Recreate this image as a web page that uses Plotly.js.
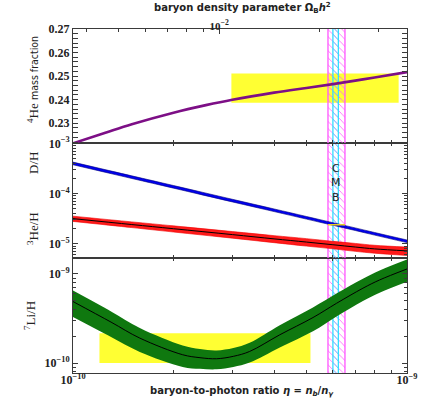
<!DOCTYPE html>
<html><head><meta charset="utf-8">
<script src="https://cdn.plot.ly/plotly-3.0.1.min.js"></script>
<style>html,body{margin:0;padding:0;background:#fff}#chart{width:422px;height:401px}</style>
</head><body><div id="chart"></div>
<script>
// eta values are in units of 1e-10
const ETA_UNIT = 1e-10;
const OMEGA_FACTOR = 273.9; // eta_10 = 273.9 * Omega_B h^2

// 4He mass fraction
const etaHe = [1, 1.25, 1.5, 2, 2.5, 3, 4, 5, 6, 7, 8, 10];
const yHe4  = [0.2215, 0.2260, 0.2296, 0.2345, 0.2377, 0.2400, 0.2430, 0.2450, 0.2466, 0.2481, 0.2494, 0.2517];

// D/H and 3He/H
const etaD  = [1, 1.5, 2, 3, 4, 5, 6, 7, 8, 10];
const dH    = [3.98e-4, 2.12e-4, 1.36e-4, 7.24e-5, 4.65e-5, 3.29e-5, 2.48e-5, 1.95e-5, 1.58e-5, 1.12e-5];
const dHErr = [0.06, 0.06, 0.06, 0.06, 0.06, 0.06, 0.06, 0.06, 0.06, 0.06];
const he3H  = [3.16e-5, 2.41e-5, 1.99e-5, 1.52e-5, 1.25e-5, 1.08e-5, 9.55e-6, 8.6e-6, 7.9e-6, 7.2e-6];
const he3Err= [0.12, 0.13, 0.14, 0.15, 0.16, 0.17, 0.17, 0.18, 0.18, 0.19];

// 7Li/H
const etaLi = [1, 1.3, 1.585, 2.13, 2.4, 2.69, 3.02, 3.38, 4.16, 5.23, 6.15, 7.38, 8.28, 10];
const liH   = [4.90e-10, 2.88e-10, 1.905e-10, 1.239e-10, 1.148e-10, 1.117e-10, 1.189e-10, 1.349e-10, 2.075e-10, 3.24e-10, 4.68e-10, 6.92e-10, 8.57e-10, 1.138e-9];
const liErr = [0.33, 0.32, 0.30, 0.27, 0.25, 0.24, 0.24, 0.25, 0.28, 0.30, 0.29, 0.28, 0.28, 0.28];

// observational boxes
const heBoxEta = [2.98, 9.44];  const heBoxY = [0.2387, 0.2511];
const dBoxEta  = [5.80, 6.52];  const dBoxY  = [2.32e-5, 2.46e-5];
const liBoxEta = [1.2, 5.14];   const liBoxY = [1.0e-10, 2.16e-10];

// CMB bands
const cmbOuter = [5.80, 6.52];
const cmbInner = [6.00, 6.23];

// axis ranges
const xRangeLog = [-10, -9];
const heRange = [0.2215, 0.27];
const dRangeLog = [-5.29, -3];
const liRangeLog = [-10.112, -8.824];

// tick labels
const heTicks = [0.23, 0.24, 0.25, 0.26, 0.27];
const heTickText = ['0.23', '0.24', '0.25', '0.26', '0.27'];
const xTickText = ['10<sup>\u221210</sup>', '10<sup>\u22129</sup>'];
const dTickText = ['10<sup>\u22125</sup>', '10<sup>\u22124</sup>', '10<sup>\u22123</sup>'];
const liTickText = ['10<sup>\u221210</sup>', '10<sup>\u22129</sup>'];
const omegaTickText = ['10<sup>\u22122</sup>'];

const eta = a => a.map(v => v * ETA_UNIT);
function decadeMinors(lo, hi) {
  const out = [];
  for (let k = Math.floor(lo); k <= Math.ceil(hi); k++)
    for (let m = 2; m <= 9; m++) { const v = m * Math.pow(10, k); if (Math.log10(v) >= lo && Math.log10(v) <= hi) out.push(v); }
  return out;
}
function decades(lo, hi) { const o = []; for (let k = Math.ceil(lo); k <= Math.floor(hi); k++) o.push(Math.pow(10, k)); return o; }

const YELLOW = '#ffff33';
const PINK = '#ff55ff';
const CYAN = '#33ddff';
const traces = [];

function box(xa, ya, xr, yr, col) {
  traces.push({x: eta([xa[0], xa[1], xa[1], xa[0], xa[0]]), y: [ya[0], ya[0], ya[1], ya[1], ya[0]],
    xaxis: xr, yaxis: yr, mode: 'lines', fill: 'toself', fillcolor: col || YELLOW, line: {width: 0}, hoverinfo: 'skip'});
}
function cmb(xr, yr, lo, hi) {
  [[cmbOuter, PINK], [cmbInner, CYAN]].forEach(([b, col]) => {
    traces.push({x: eta([b[0], b[1], b[1], b[0], b[0]]), y: [lo, lo, hi, hi, lo], xaxis: xr, yaxis: yr,
      mode: 'lines', fill: 'toself', fillcolor: 'rgba(0,0,0,0)', line: {width: 0},
      fillpattern: {shape: '\\', fgcolor: col, bgcolor: 'rgba(0,0,0,0)', size: 5, solidity: 0.15, fillmode: 'replace'},
      hoverinfo: 'skip'});
    traces.push({x: eta([b[0], b[0], null, b[1], b[1]]), y: [lo, hi, null, lo, hi], xaxis: xr, yaxis: yr,
      mode: 'lines', line: {color: col, width: 1.3}, hoverinfo: 'skip'});
  });
}
function band(xs, c, err, xr, yr, fill, shape, centerColor, edgeColor) {
  const xe = eta(xs);
  traces.push({x: xe, y: c.map((v, i) => v * (1 - err[i])), xaxis: xr, yaxis: yr, mode: 'lines',
    line: {width: edgeColor ? 0.6 : 0, color: edgeColor || fill, shape: shape}, hoverinfo: 'skip'});
  traces.push({x: xe, y: c.map((v, i) => v * (1 + err[i])), xaxis: xr, yaxis: yr, mode: 'lines', fill: 'tonexty',
    fillcolor: fill, line: {width: edgeColor ? 0.6 : 0, color: edgeColor || fill, shape: shape}, hoverinfo: 'skip'});
  if (centerColor) traces.push({x: xe, y: c, xaxis: xr, yaxis: yr, mode: 'lines',
    line: {width: 1, color: centerColor, shape: shape}, hoverinfo: 'skip'});
}

// top panel: 4He (x3, y3)
box(heBoxEta, heBoxY, 'x3', 'y3');
cmb('x3', 'y3', heRange[0], heRange[1]);
traces.push({x: eta(etaHe), y: yHe4, xaxis: 'x3', yaxis: 'y3', mode: 'lines', line: {color: '#7d0f86', width: 2.6, shape: 'spline'}, hoverinfo: 'skip'});
traces.push({x: [Math.pow(10, xRangeLog[0]) / ETA_UNIT / OMEGA_FACTOR], y: [heRange[0]], xaxis: 'x4', yaxis: 'y3', mode: 'markers', marker: {opacity: 0}, hoverinfo: 'skip'});

// middle panel: D/H, 3He/H (x2, y2)
cmb('x2', 'y2', Math.pow(10, dRangeLog[0]), Math.pow(10, dRangeLog[1]));
band(etaD, he3H, he3Err, 'x2', 'y2', '#ff1a1a', 'spline', '#000000', '#ee0000');
band(etaD, dH, dHErr, 'x2', 'y2', '#0000ee', 'spline', null, '#00007a');
box(dBoxEta, dBoxY, 'x2', 'y2', '#e8d020');

// bottom panel: 7Li/H (x, y)
box(liBoxEta, liBoxY, 'x', 'y');
cmb('x', 'y', Math.pow(10, liRangeLog[0]), Math.pow(10, liRangeLog[1]));
band(etaLi, liH, liErr, 'x', 'y', '#0f780f', 'spline', '#000000', null);

const AX = '#3a3a3a';
const tickFont = {family: 'Liberation Serif, DejaVu Serif, serif', size: 12, weight: 'bold', color: '#222'};
function xAxis(anchor, mirror, labels) {
  return {type: 'log', range: xRangeLog, domain: [0, 1], anchor: anchor, showline: true, linecolor: AX, linewidth: 1,
    mirror: mirror, ticks: 'inside', ticklen: 5, tickcolor: AX, showgrid: false, zeroline: false,
    tickmode: 'array', tickvals: decades(xRangeLog[0], xRangeLog[1]), ticktext: xTickText, showticklabels: labels,
    tickfont: tickFont, ticklabelstandoff: -4,
    minor: {tickmode: 'array', tickvals: decadeMinors(xRangeLog[0], xRangeLog[1]), ticks: 'inside', ticklen: 3, tickcolor: AX, showgrid: false}};
}
const H = 344, T = 29, B = 28;
const liTopPx = 258.3, dTopPx = 143.3, plotBottomPx = 401 - B;
const dom1 = (plotBottomPx - liTopPx) / H;
const dom2 = (plotBottomPx - dTopPx) / H;

const omegaRange = [Math.log10(Math.pow(10, xRangeLog[0]) / ETA_UNIT / OMEGA_FACTOR), Math.log10(Math.pow(10, xRangeLog[1]) / ETA_UNIT / OMEGA_FACTOR)];

const px = v => (v - 73) / 334;
const py = v => (plotBottomPx - v) / H;
const labelFont = {family: 'Liberation Serif, serif', size: 13, color: '#222'};
const titleFont = {family: 'DejaVu Sans, sans-serif', size: 10, weight: 'bold', color: '#222'};

const layout = {
  width: 422, height: 401, margin: {l: 73, r: 15, t: T, b: B},
  paper_bgcolor: '#ffffff', plot_bgcolor: 'rgba(0,0,0,0)', showlegend: false,
  font: {family: 'Liberation Serif, serif', color: '#222'},
  xaxis: xAxis('y', 'allticks', true),
  xaxis2: xAxis('y2', 'allticks', false),
  xaxis3: xAxis('y3', false, false),
  xaxis4: {type: 'log', range: omegaRange, overlaying: 'x3', side: 'top', anchor: 'y3', showline: true, linecolor: AX,
    ticks: 'inside', ticklen: 5, tickcolor: AX, showgrid: false, zeroline: false, tickmode: 'array',
    tickvals: decades(omegaRange[0], omegaRange[1]), ticktext: omegaTickText,
    tickfont: {family: 'Liberation Serif, DejaVu Serif, serif', size: 11, weight: 'bold', color: '#222'}, ticklabelstandoff: -6,
    minor: {tickmode: 'array', tickvals: decadeMinors(omegaRange[0], omegaRange[1]), ticks: 'inside', ticklen: 3, tickcolor: AX, showgrid: false}},
  yaxis: {type: 'log', range: liRangeLog, domain: [0, dom1], anchor: 'x', showline: true, linecolor: AX, mirror: 'allticks',
    ticks: 'inside', ticklen: 5, tickcolor: AX, showgrid: false, zeroline: false, tickmode: 'array',
    tickvals: decades(liRangeLog[0], liRangeLog[1]), ticktext: liTickText, tickfont: tickFont,
    minor: {tickmode: 'array', tickvals: decadeMinors(liRangeLog[0], liRangeLog[1]), ticks: 'inside', ticklen: 3, tickcolor: AX, showgrid: false}},
  yaxis2: {type: 'log', range: dRangeLog, domain: [dom1, dom2], anchor: 'x2', showline: true, linecolor: AX, mirror: 'allticks',
    ticks: 'inside', ticklen: 5, tickcolor: AX, showgrid: false, zeroline: false, tickmode: 'array',
    tickvals: decades(dRangeLog[0], dRangeLog[1]), ticktext: dTickText, tickfont: tickFont,
    minor: {tickmode: 'array', tickvals: decadeMinors(dRangeLog[0], dRangeLog[1]), ticks: 'inside', ticklen: 3, tickcolor: AX, showgrid: false}},
  yaxis3: {range: heRange, domain: [dom2, 1], anchor: 'x3', showline: true, linecolor: AX, mirror: 'allticks',
    ticks: 'inside', ticklen: 5, tickcolor: AX, showgrid: false, zeroline: false, tickmode: 'array',
    tickvals: heTicks, ticktext: heTickText, tickfont: tickFont,
    minor: {dtick: 0.002, ticks: 'inside', ticklen: 3, tickcolor: AX, showgrid: false}},
  annotations: [
    {xref: 'paper', yref: 'paper', x: px(33), y: py(80), xanchor: 'center', yanchor: 'middle', textangle: -90, showarrow: false,
     text: '<sup>4</sup>He <span style="font-family:DejaVu Sans Condensed, Liberation Sans Narrow, Roboto Condensed, Roboto, sans-serif;font-size:10.5px">mass fraction</span>',
     font: labelFont},
    {xref: 'paper', yref: 'paper', x: px(33), y: py(163), xanchor: 'center', yanchor: 'middle', textangle: -90, showarrow: false,
     text: 'D/H', font: labelFont},
    {xref: 'paper', yref: 'paper', x: px(33), y: py(229), xanchor: 'center', yanchor: 'middle', textangle: -90, showarrow: false,
     text: '<sup>3</sup>He/H', font: labelFont},
    {xref: 'paper', yref: 'paper', x: px(30), y: py(316), xanchor: 'center', yanchor: 'middle', textangle: -90, showarrow: false,
     text: '<sup>7</sup>Li/H', font: labelFont},
    {xref: 'paper', yref: 'paper', x: px(242), y: py(8), xanchor: 'center', yanchor: 'middle', showarrow: false,
     text: 'baryon density parameter \u03A9<sub>B</sub><i>h</i><sup>2</sup>', font: titleFont},
    {xref: 'paper', yref: 'paper', x: px(242), y: py(391), xanchor: 'center', yanchor: 'middle', showarrow: false,
     text: 'baryon-to-photon ratio <i>\u03B7</i> = <i>n<sub>b</sub></i>/<i>n<sub>\u03B3</sub></i>', font: titleFont},
    {xref: 'x2', yref: 'paper', x: Math.log10((cmbInner[0] + cmbInner[1]) / 2 * ETA_UNIT), y: py(182.5), xanchor: 'center', yanchor: 'middle', showarrow: false,
     text: 'C<br>M<br>B', font: {family: 'DejaVu Sans, sans-serif', size: 11, color: '#222'}}
  ]
};

Plotly.newPlot('chart', traces, layout, {staticPlot: true, displayModeBar: false});
</script></body></html>
